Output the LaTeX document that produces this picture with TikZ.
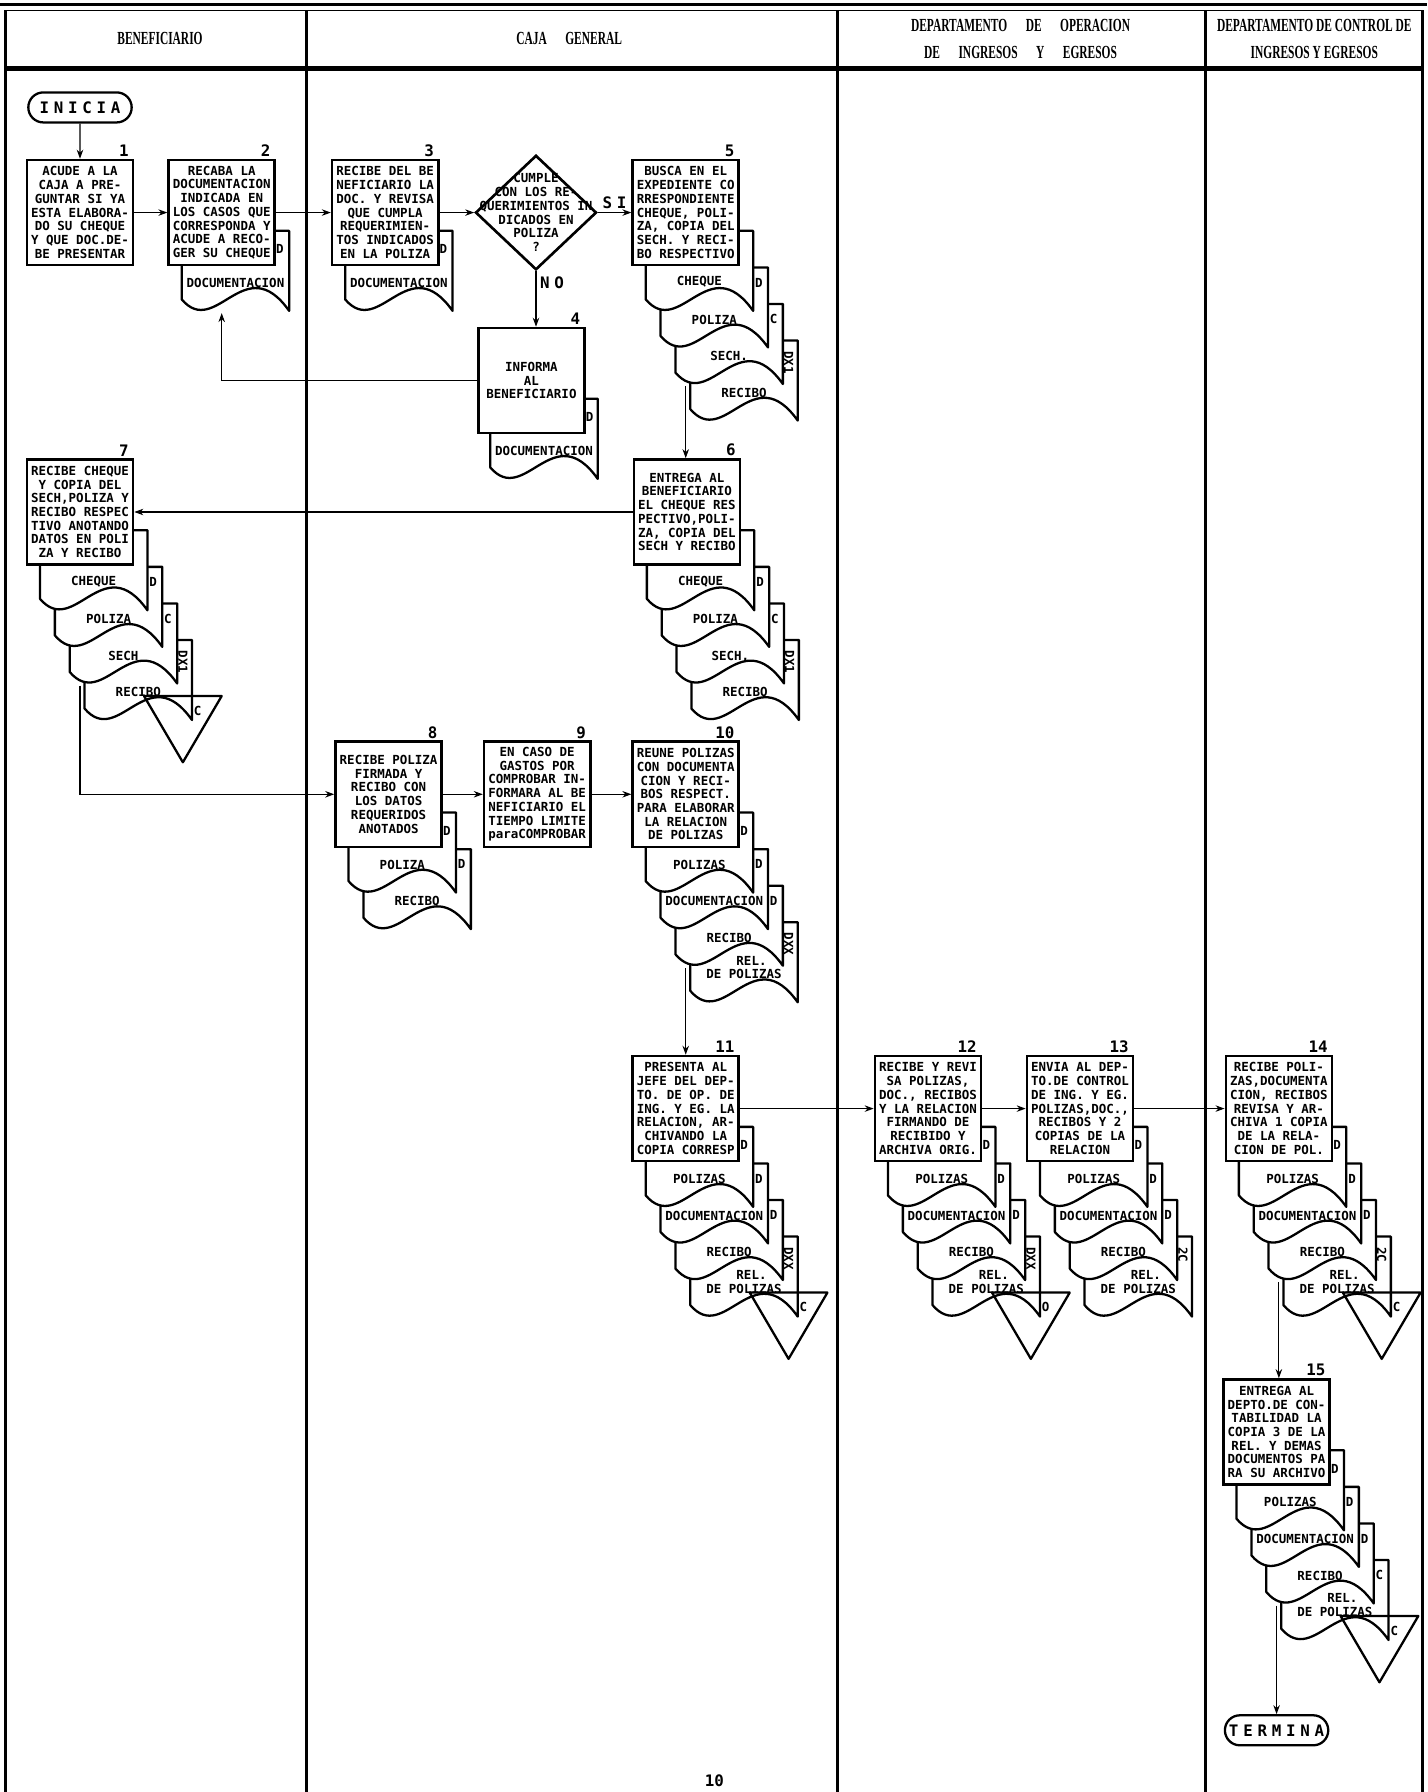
\documentclass[tikz,border=0pt]{standalone}
\usepackage{fontspec}
\usepackage{graphicx}
\setmonofont{DejaVu Sans Mono}
\newfontfamily\headfont{Liberation Serif}[FakeStretch=0.62]
\newfontfamily\termfont{DejaVu Sans Mono}[LetterSpace=30]
\usetikzlibrary{shapes.geometric, shapes.misc, arrows.meta, calc, positioning}
\newcommand{\boxfont}{\ttfamily\bfseries\fontsize{7.1}{7.8}\selectfont}
\newcommand{\vtag}[1]{\rotatebox{-90}{#1}}
\tikzset{
  % caja de proceso
  proc/.style={draw, line width=1.5pt, fill=white, minimum width=2.12cm,
    minimum height=2.1cm, inner sep=1pt, align=center, font=\boxfont},
  % rombo de decision
  decision/.style={diamond, draw, line width=1.5pt, fill=white,
    minimum width=2.42cm, minimum height=2.29cm, inner sep=0pt},
  % inicio y fin
  term/.style={rounded rectangle, draw, line width=1.3pt, minimum width=2.3cm,
    minimum height=0.6cm, font=\termfont\bfseries\fontsize{9}{10}\selectfont},
  % documento
  docline/.style={line width=1.3pt, fill=white, line join=round},
  doclbl/.style={font=\boxfont, inner sep=0pt, align=center},
  tag/.style={font=\boxfont, inner sep=0pt},
  % numeros de paso
  num/.style={font=\ttfamily\bfseries\fontsize{9}{10}\selectfont, inner sep=1pt},
  sino/.style={font=\termfont\bfseries\fontsize{9}{10}\selectfont, inner sep=2pt},
  % conectores
  arr/.style={-{Stealth[length=1.8mm, width=1.3mm]}, line width=0.6pt},
  lnk/.style={line width=0.6pt},
  lane/.style={line width=1.6pt},
  head/.style={font=\headfont\bfseries\fontsize{10.5}{12}\selectfont, align=center},
}
% documento: nombre, x izq, y sup, texto, marca
\newcommand{\docu}[5]{%
  \draw[docline] (#2,#3) -- (#2,{#3+60})
    .. controls ({#2+30},{#3+95}) and ({#2+55},{#3+15}) .. ({#2+94},{#3+70})
    -- ({#2+94},#3) -- cycle;
  \node[doclbl, anchor=south] (#1) at ({#2+47},{#3+50}) {#4};
  \node[tag, anchor=north] (#1m) at ({#2+99},{#3+41}) {#5};
}
% conector fuera de pagina
\newcommand{\conector}[4]{%
  \draw[line width=1.3pt, line join=round] ({#2+52},{#3+49}) -- ({#2+120},{#3+49})
    -- ({#2+86},{#3+107}) -- cycle;
  \node[tag] (#1) at ({#2+99},{#3+62}) {#4};
}

\begin{document}
\begin{tikzpicture}[x=0.02285cm, y=-0.02285cm]
  \useasboundingbox (0,0) rectangle (1249,1568);
  % encabezado y carriles
  \draw[line width=2pt] (0,4) -- (1249,4);
  \draw[line width=0.8pt] (5,9) -- (1245,9);
  \draw[line width=2.4pt] (5,60) -- (1245,60);
  \foreach \xx in {5,268,733,1055,1245}
    \draw[lane] (\xx,9) -- (\xx,1568);
  \node[head] (hben) at (140,34) {BENEFICIARIO};
  \node[head] (hcaja) at (498,34) {CAJA\quad GENERAL};
  \node[head] (hope) at (893,34) {DEPARTAMENTO\quad DE\quad OPERACION\\[3pt]DE\quad INGRESOS\quad Y\quad EGRESOS};
  \node[head] (hcon) at (1150,34) {DEPARTAMENTO DE CONTROL DE\\[3pt]INGRESOS Y EGRESOS};

  % documentos, del ultimo al primero
  \docu{d2}{159}{202}{DOCUMENTACION}{}
  \docu{d3}{302}{202}{DOCUMENTACION}{}
  \docu{d4}{429}{349}{DOCUMENTACION}{}
  \docu{d5d}{604}{298}{RECIBO}{}
  \docu{d5c}{591}{266}{SECH.}{\vtag{DX1}}
  \docu{d5b}{578}{234}{POLIZA}{C}
  \docu{d5a}{565}{202}{CHEQUE}{D}
  \docu{d6d}{605}{560}{RECIBO}{}
  \docu{d6c}{592}{528}{SECH.}{\vtag{DX1}}
  \docu{d6b}{579}{496}{POLIZA}{C}
  \docu{d6a}{566}{464}{CHEQUE}{D}
  \docu{d7d}{74}{560}{RECIBO}{}
  \docu{d7c}{61}{528}{SECH}{\vtag{DX1}}
  \docu{d7b}{48}{496}{POLIZA}{C}
  \docu{d7a}{35}{464}{CHEQUE}{D}
  \conector{c7}{74}{560}{C}
  \docu{d8b}{318}{743}{RECIBO}{}
  \docu{d8a}{305}{711}{POLIZA}{D}
  \docu{d10d}{604}{807}{\hspace*{1.2em}REL.\\DE POLIZAS}{}
  \docu{d10c}{591}{775}{RECIBO}{\vtag{DXX}}
  \docu{d10b}{578}{743}{DOCUMENTACION}{D}
  \docu{d10a}{565}{711}{POLIZAS}{D}
  \docu{d11d}{604}{1082}{\hspace*{1.2em}REL.\\DE POLIZAS}{}
  \docu{d11c}{591}{1050}{RECIBO}{\vtag{DXX}}
  \docu{d11b}{578}{1018}{DOCUMENTACION}{D}
  \docu{d11a}{565}{986}{POLIZAS}{D}
  \conector{c11}{604}{1082}{C}
  \docu{d12d}{816}{1082}{\hspace*{1.2em}REL.\\DE POLIZAS}{}
  \docu{d12c}{803}{1050}{RECIBO}{\vtag{DXX}}
  \docu{d12b}{790}{1018}{DOCUMENTACION}{D}
  \docu{d12a}{777}{986}{POLIZAS}{D}
  \conector{c12}{816}{1082}{O}
  \docu{d13d}{949}{1082}{\hspace*{1.2em}REL.\\DE POLIZAS}{}
  \docu{d13c}{936}{1050}{RECIBO}{\vtag{2C}}
  \docu{d13b}{923}{1018}{DOCUMENTACION}{D}
  \docu{d13a}{910}{986}{POLIZAS}{D}
  \docu{d14d}{1123}{1082}{\hspace*{1.2em}REL.\\DE POLIZAS}{}
  \docu{d14c}{1110}{1050}{RECIBO}{\vtag{2C}}
  \docu{d14b}{1097}{1018}{DOCUMENTACION}{D}
  \docu{d14a}{1084}{986}{POLIZAS}{D}
  \conector{c14}{1123}{1082}{C}
  \docu{d15d}{1121}{1365}{\hspace*{1.2em}REL.\\DE POLIZAS}{}
  \docu{d15c}{1108}{1333}{RECIBO}{C}
  \docu{d15b}{1095}{1301}{DOCUMENTACION}{D}
  \docu{d15a}{1082}{1269}{POLIZAS}{D}
  \conector{c15}{1121}{1365}{C}

  % pasos
  \node[term] (ini) at (70,94) {INICIA};
  \node[proc] (b1) at (70,186) {ACUDE A LA\\CAJA A PRE-\\GUNTAR SI YA\\ESTA ELABORA-\\DO SU CHEQUE\\Y QUE DOC.DE-\\BE PRESENTAR};
  \node[proc] (b2) at (194,186) {RECABA LA\\DOCUMENTACION\\INDICADA EN\\LOS CASOS QUE\\CORRESPONDA Y\\ACUDE A RECO-\\GER SU CHEQUE};
  \node[proc] (b3) at (337,186) {RECIBE DEL BE\\NEFICIARIO LA\\DOC. Y REVISA\\QUE CUMPLA\\REQUERIMIEN-\\TOS INDICADOS\\EN LA POLIZA};
  \node[decision] (q) at (469,186) {};
  \node[doclbl] (qt) at (q) {CUMPLE\\CON LOS RE-\\QUERIMIENTOS IN\\DICADOS EN\\POLIZA\\?};
  \node[proc] (b4) at (465,333) {INFORMA\\AL\\BENEFICIARIO};
  \node[proc] (b5) at (600,186) {BUSCA EN EL\\EXPEDIENTE CO\\RRESPONDIENTE\\CHEQUE, POLI-\\ZA, COPIA DEL\\SECH. Y RECI-\\BO RESPECTIVO};
  \node[proc] (b6) at (601,448) {ENTREGA AL\\BENEFICIARIO\\EL CHEQUE RES\\PECTIVO,POLI-\\ZA, COPIA DEL\\SECH Y RECIBO};
  \node[proc] (b7) at (70,448) {RECIBE CHEQUE\\Y COPIA DEL\\SECH,POLIZA Y\\RECIBO RESPEC\\TIVO ANOTANDO\\DATOS EN POLI\\ZA Y RECIBO};
  \node[proc] (b8) at (340,695) {RECIBE POLIZA\\FIRMADA Y\\RECIBO CON\\LOS DATOS\\REQUERIDOS\\ANOTADOS};
  \node[proc] (b9) at (470,695) {EN CASO DE\\GASTOS POR\\COMPROBAR IN-\\FORMARA AL BE\\NEFICIARIO EL\\TIEMPO LIMITE\\paraCOMPROBAR};
  \node[proc] (b10) at (600,695) {REUNE POLIZAS\\CON DOCUMENTA\\CION Y RECI-\\BOS RESPECT.\\PARA ELABORAR\\LA RELACION\\DE POLIZAS};
  \node[proc] (b11) at (600,970) {PRESENTA AL\\JEFE DEL DEP-\\TO. DE OP. DE\\ING. Y EG. LA\\RELACION, AR-\\CHIVANDO LA\\COPIA CORRESP};
  \node[proc] (b12) at (812,970) {RECIBE Y REVI\\SA POLIZAS,\\DOC., RECIBOS\\Y LA RELACION\\FIRMANDO DE\\RECIBIDO Y\\ARCHIVA ORIG.};
  \node[proc] (b13) at (945,970) {ENVIA AL DEP-\\TO.DE CONTROL\\DE ING. Y EG.\\POLIZAS,DOC.,\\RECIBOS Y 2\\COPIAS DE LA\\RELACION};
  \node[proc] (b14) at (1119,970) {RECIBE POLI-\\ZAS,DOCUMENTA\\CION, RECIBOS\\REVISA Y AR-\\CHIVA 1 COPIA\\DE LA RELA-\\CION DE POL.};
  \node[proc] (b15) at (1117,1253) {ENTREGA AL\\DEPTO.DE CON-\\TABILIDAD LA\\COPIA 3 DE LA\\REL. Y DEMAS\\DOCUMENTOS PA\\RA SU ARCHIVO};
  \node[term] (fin) at (1117,1514) {TERMINA};

  % numeros de paso
  \foreach \b/\n in {b1/1,b2/2,b3/3,b4/4,b5/5,b6/6,b7/7,b8/8,b9/9,b10/10,b11/11,b12/12,b13/13,b14/14,b15/15}
    \node[num, anchor=south east] (n\n) at ([xshift=-2pt]\b.north east) {\n};

  % marcas junto a las cajas
  \node[tag] (t2) at (245,218) {D};
  \node[tag] (t3) at (388,218) {D};
  \node[tag] (t4) at (516,365) {D};
  \node[tag] (t8) at (391,727) {D};
  \node[tag] (t10) at (651,727) {D};
  \node[tag] (t11) at (651,1002) {D};
  \node[tag] (t12) at (863,1002) {D};
  \node[tag] (t13) at (996,1002) {D};
  \node[tag] (t14) at (1170,1002) {D};
  \node[tag] (t15) at (1168,1285) {D};

  % salidas de las pilas de documentos
  \coordinate (d2b) at (194,274);
  \coordinate (s5) at (600,338);
  \coordinate (s7) at (70,600);
  \coordinate (s10) at (600,847);
  \coordinate (s14) at (1119,1122);
  \coordinate (s15) at (1117,1405);

  % flujo
  \draw[arr] (ini) -- (b1);
  \draw[arr] (b1) -- (b2);
  \draw[arr] (b2) -- (b3);
  \draw[arr] (b3) -- (q);
  \draw[arr] (q.east) -- node[sino, above] (si) {SI} (b5.west);
  \draw[arr] (q.south) -- node[sino, pos=0.2, right] (no) {NO} (q.south |- b4.north);
  \draw[arr] (b4.west) -| (d2b);
  \draw[arr] (s5) -- (s5 |- b6.north);
  \draw[arr] (b6.west) -- (b7.east);
  \draw[arr] (s7) |- (b8.west);
  \draw[arr] (b8) -- (b9);
  \draw[arr] (b9) -- (b10);
  \draw[arr] (s10) -- (s10 |- b11.north);
  \draw[arr] (b11) -- (b12);
  \draw[arr] (b12) -- (b13);
  \draw[arr] (b13) -- (b14);
  \draw[arr] (s14) -- (s14 |- b15.north);
  \draw[arr] (s15) -- (s15 |- fin.north);

  \node[num] (pag) at (625,1558) {10};
\end{tikzpicture}
\end{document}
